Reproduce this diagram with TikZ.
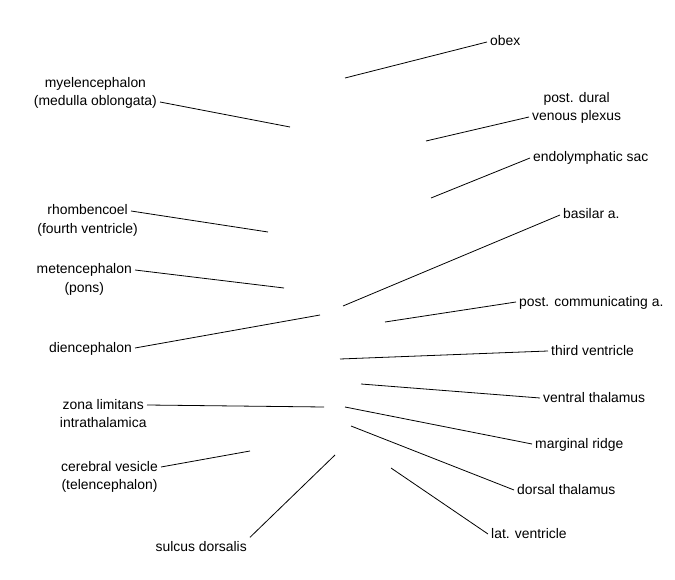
\documentclass[tikz,border=0pt]{standalone}
\usepackage{fontspec}
\setmainfont{Liberation Sans}
\begin{document}
\begin{tikzpicture}[x=1pt,y=-1pt,
  lbl/.style={font=\fontsize{13.9}{17}\selectfont, inner sep=3pt, text height=10.5pt, text depth=2.5pt},
  rlbl/.style={lbl, anchor=west},
  llbl/.style={lbl, anchor=east},
  above2/.style={label={[lbl,label distance=-1pt]above:#1}},
  below2/.style={label={[lbl,label distance=-1pt]below:#1}},
  conn/.style={draw=black, line width=0.8pt}]
\useasboundingbox (0,0) rectangle (675,580);
% right labels
\node[rlbl] (obex) at (487,42) {obex};
\node[rlbl,above2={post. dural}] (pdvp) at (529,117) {venous plexus};
\node[rlbl] (endo) at (530,158) {endolymphatic sac};
\node[rlbl] (bas) at (560,215) {basilar a.};
\node[rlbl] (pca) at (516,302) {post. communicating a.};
\node[rlbl] (third) at (548,351) {third ventricle};
\node[rlbl] (vent) at (540,398) {ventral thalamus};
\node[rlbl] (marg) at (532,444) {marginal ridge};
\node[rlbl] (dors) at (514,490) {dorsal thalamus};
\node[rlbl] (lat) at (488,534) {lat. ventricle};
% left labels
\node[llbl,above2={myelencephalon}] (myel) at (160,102) {(medulla oblongata)};
\node[llbl,below2={(fourth ventricle)}] (rhomb) at (131,211) {rhombencoel};
\node[llbl,below2={(pons)}] (met) at (135,270) {metencephalon};
\node[llbl] (dien) at (135,348) {diencephalon};
\node[llbl,below2={intrathalamica}] (zona) at (147,405) {zona limitans};
\node[llbl,below2={(telencephalon)}] (cereb) at (161,467) {cerebral vesicle};
\node[lbl,anchor=east] (sulc) at (250,547) {sulcus dorsalis};
% pointer ends
\coordinate (pobex) at (345,78);
\coordinate (ppdvp) at (426,141);
\coordinate (pendo) at (431,198);
\coordinate (pbas) at (343,306);
\coordinate (ppca) at (385,322);
\coordinate (pthird) at (340,359);
\coordinate (pvent) at (361,384);
\coordinate (pmarg) at (345,407);
\coordinate (pdors) at (351,426);
\coordinate (plat) at (391,468);
\coordinate (pmyel) at (290,127);
\coordinate (prhomb) at (268,232);
\coordinate (pmet) at (284,288);
\coordinate (pdien) at (320,315);
\coordinate (pzona) at (324,407);
\coordinate (pcereb) at (250,451);
\coordinate (psulc) at (335,455);
% connectors
\foreach \n in {obex,pdvp,endo,bas,pca,third,vent,marg,dors,lat}
  \draw[conn] (p\n) -- (\n.west);
\foreach \n in {myel,rhomb,met,dien,zona,cereb}
  \draw[conn] (\n.east) -- (p\n);
\draw[conn] (sulc.north east) -- (psulc);
\end{tikzpicture}
\end{document}
